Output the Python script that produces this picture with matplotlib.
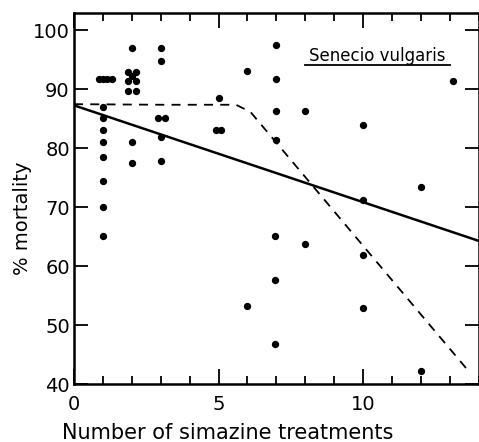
import matplotlib.pyplot as plt
from matplotlib.ticker import MultipleLocator

# scattered observations (number of treatments, % mortality)
treat = [0.85, 1.0, 1.15, 1.3, 1.0, 1.0, 1.0, 1.0, 1.0, 1.0, 1.0, 1.0,
         2.0, 1.87, 2.13, 2.0, 1.87, 2.13, 1.87, 2.13, 2.0, 2.0,
         3.0, 3.0, 2.9, 3.15, 3.0, 3.0,
         5.0, 4.92, 5.08,
         6.0, 6.0,
         7.0, 7.0, 7.0, 7.0, 6.95, 6.95, 6.95,
         8.0, 8.0,
         10.0, 10.0, 10.0, 10.0,
         12.0, 12.0, 13.1]
mortality = [91.8, 91.8, 91.8, 91.8, 87.0, 85.1, 83.2, 81.0, 78.6, 74.4, 70.0, 65.1,
             97.1, 92.9, 92.9, 92.2, 91.4, 91.4, 89.8, 89.8, 81.0, 77.6,
             97.1, 94.8, 85.1, 85.1, 81.9, 77.8,
             88.6, 83.2, 83.2,
             93.1, 53.3,
             97.5, 91.7, 86.4, 81.4, 65.1, 57.6, 46.8,
             86.4, 63.7,
             83.9, 71.2, 61.9, 52.9,
             73.4, 42.3, 91.5]

# fitted lines
lin_x = [0, 14]
lin_y = [87.3, 64.3]
brk_x = [0, 3, 5.6, 6.1, 13.7]
brk_y = [87.5, 87.4, 87.4, 86.2, 41.9]

fig = plt.figure(figsize=(4.79, 4.42), dpi=100)
ax = fig.add_axes([0.1545, 0.131, 0.845, 0.84])

ax.scatter(treat, mortality, s=18, color="black", zorder=3)
ax.plot(lin_x, lin_y, color="black", lw=1.8)
ax.plot(brk_x, brk_y, color="black", lw=1.3, dashes=(5, 4))

ax.set_xlim(0, 14)
ax.set_ylim(40, 103)
ax.xaxis.set_major_locator(MultipleLocator(5))
ax.xaxis.set_minor_locator(MultipleLocator(1))
ax.yaxis.set_major_locator(MultipleLocator(10))
ax.tick_params(which="both", direction="in", top=True, right=True,
               labelsize=14, width=1.3)
ax.tick_params(axis="x", which="major", length=11, pad=8)
ax.tick_params(axis="x", which="minor", length=6)
ax.tick_params(axis="y", length=10, pad=3)
for s in ax.spines.values():
    s.set_linewidth(1.8)

ax.set_xlabel("Number of simazine treatments", fontsize=15)
ax.xaxis.set_label_coords(0.38, -0.105)
ax.set_ylabel("% mortality", fontsize=14)
ax.yaxis.set_label_coords(-0.105, 0.447)
ax.text(10.5, 94.8, "Senecio vulgaris", fontsize=12, ha="center", va="baseline")
ax.plot([8.0, 13.0], [94.1, 94.1], color="black", lw=1.3)

fig.savefig("out.png", dpi=100)
